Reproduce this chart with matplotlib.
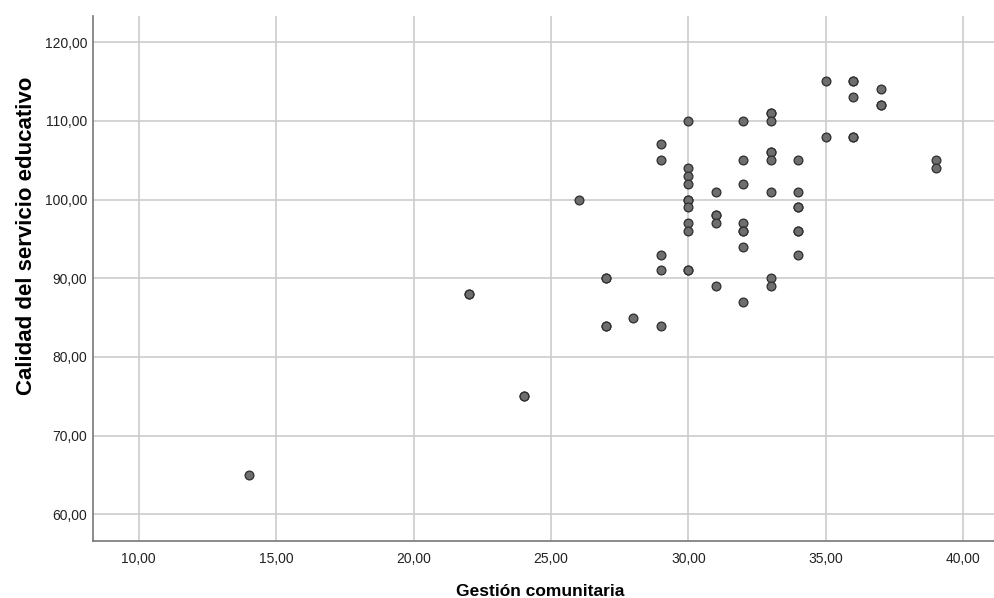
import matplotlib
matplotlib.use('Agg')
import matplotlib.pyplot as plt
from matplotlib.ticker import FuncFormatter

# Gestión comunitaria (x) vs Calidad del servicio educativo (y)
gestion = [14, 22, 22, 24, 24, 26,
           27, 27, 27, 27, 28,
           29, 29, 29, 29, 29,
           30, 30, 30, 30, 30, 30, 30, 30, 30, 30, 30,
           31, 31, 31, 31, 31,
           32, 32, 32, 32, 32, 32, 32, 32,
           33, 33, 33, 33, 33, 33, 33, 33, 33,
           34, 34, 34, 34, 34, 34, 34,
           35, 35,
           36, 36, 36, 36, 36,
           37, 37, 37,
           39, 39]
calidad = [65, 88, 88, 75, 75, 100,
           90, 90, 84, 84, 85,
           107, 105, 93, 91, 84,
           110, 104, 103, 102, 100, 100, 99, 97, 96, 91, 91,
           101, 98, 98, 97, 89,
           110, 105, 102, 97, 96, 96, 94, 87,
           111, 111, 110, 106, 106, 105, 101, 90, 89,
           105, 101, 99, 99, 96, 96, 93,
           115, 108,
           115, 115, 113, 108, 108,
           114, 112, 112,
           105, 104]

xticks = [10, 15, 20, 25, 30, 35, 40]
yticks = [60, 70, 80, 90, 100, 110, 120]

plt.rcParams['font.family'] = ['Liberation Sans', 'DejaVu Sans']

fig = plt.figure(figsize=(9.95, 5.98), dpi=100)
ax = fig.add_axes([0.0935, 0.095, 0.9065, 0.878])

ax.scatter(gestion, calidad, s=40, c='#6e6e6e', edgecolors='#2e2e2e',
           linewidths=0.9, zorder=3)

ax.set_xlim(8.34, 41.15)
ax.set_ylim(56.6, 123.3)
ax.set_xticks(xticks)
ax.set_yticks(yticks)
fmt = FuncFormatter(lambda v, p: f'{v:.2f}'.replace('.', ','))
ax.xaxis.set_major_formatter(fmt)
ax.yaxis.set_major_formatter(fmt)
ax.tick_params(length=0, labelsize=10, colors='#222222')
ax.tick_params(axis='x', pad=8)
ax.tick_params(axis='y', pad=4)

ax.grid(True, color='#cccccc', linewidth=1.2, zorder=0)
ax.set_axisbelow(True)
for side in ['top', 'right']:
    ax.spines[side].set_visible(False)
for side in ['left', 'bottom']:
    ax.spines[side].set_color('#777777')
    ax.spines[side].set_linewidth(1.2)

ax.set_xlabel('Gestión comunitaria', fontsize=12.5, fontweight='bold')
ax.xaxis.set_label_coords(0.4956, -0.081)
ax.set_ylabel('Calidad del servicio educativo', fontsize=16, fontweight='bold')
ax.yaxis.set_label_coords(-0.062, 0.581)

fig.savefig('out.png', dpi=100)
